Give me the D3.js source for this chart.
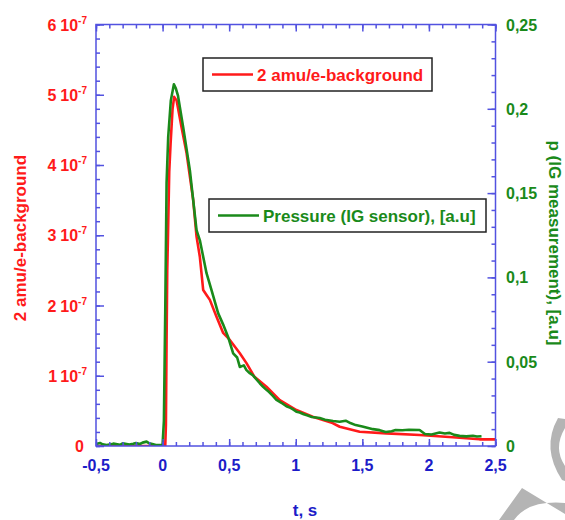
<!DOCTYPE html>
<html><head><meta charset="utf-8">
<script src="https://cdn.jsdelivr.net/npm/d3@7"></script>
<style>body{margin:0;background:#fff}svg{display:block}</style>
</head><body>
<svg id="c" width="565" height="520"></svg>
<script>
// ---------- data ----------
const xTicks = [-0.5, 0, 0.5, 1, 1.5, 2, 2.5];
const xTickLabels = ["-0,5", "0", "0,5", "1", "1,5", "2", "2,5"];
const leftTicks = [0, 1, 2, 3, 4, 5, 6];           // units of 1e-7
const leftTickMantissa = ["0", "1", "2", "3", "4", "5", "6"];
const leftTickExponent = "-7";
const rightTicks = [0, 0.05, 0.1, 0.15, 0.2, 0.25];
const rightTickLabels = ["0", "0,05", "0,1", "0,15", "0,2", "0,25"];

// 2 amu/e-background (left axis, units of 1e-7)
const redT = [-0.5, -0.3, -0.1, 0.0, 0.02, 0.025, 0.03, 0.035, 0.04, 0.05, 0.06, 0.075, 0.087, 0.105, 0.142, 0.18, 0.23, 0.255, 0.28, 0.305, 0.33, 0.355, 0.405, 0.455, 0.505, 0.58, 0.63, 0.69, 0.78, 0.88, 1.005, 1.127, 1.277, 1.33, 1.48, 1.68, 1.93, 2.18, 2.38, 2.5];
const redV = [0, 0, 0, 0, 0, 0.3, 1.5, 2.5, 2.93, 3.9, 4.3, 4.8, 4.97, 4.92, 4.54, 4.17, 3.50, 2.98, 2.69, 2.22, 2.15, 2.08, 1.84, 1.61, 1.51, 1.32, 1.18, 0.985, 0.843, 0.654, 0.512, 0.417, 0.327, 0.274, 0.203, 0.18, 0.156, 0.124, 0.095, 0.095];

// Pressure (IG sensor) (right axis, a.u.)
const greenT = [-0.5, -0.47, -0.45, -0.42, -0.4, -0.37, -0.35, -0.32, -0.3, -0.27, -0.25, -0.22, -0.2, -0.17, -0.15, -0.12, -0.1, -0.07, -0.05, -0.02, 0.0, 0.01, 0.02, 0.03, 0.042, 0.062, 0.085, 0.1, 0.115, 0.155, 0.205, 0.255, 0.28, 0.33, 0.3675, 0.417, 0.455, 0.492, 0.53, 0.56, 0.58, 0.61, 0.63, 0.655, 0.68, 0.70, 0.73, 0.755, 0.78, 0.80, 0.83, 0.855, 0.88, 0.90, 0.93, 0.96, 0.98, 1.005, 1.03, 1.06, 1.09, 1.12, 1.18, 1.22, 1.28, 1.33, 1.375, 1.41, 1.45, 1.50, 1.58, 1.63, 1.675, 1.72, 1.75, 1.80, 1.85, 1.93, 1.97, 2.02, 2.08, 2.12, 2.155, 2.19, 2.23, 2.28, 2.33, 2.36, 2.395];
const greenP = [0.0012, 0.0018, 0.0010, 0.0006, 0.0008, 0.0014, 0.0011, 0.0007, 0.0016, 0.0012, 0.0009, 0.0013, 0.0017, 0.0012, 0.0020, 0.0026, 0.0016, 0.0010, 0.0006, 0.0005, 0.0008, 0.015, 0.08, 0.156, 0.183, 0.205, 0.2145, 0.212, 0.208, 0.189, 0.1635, 0.128, 0.122, 0.1025, 0.0924, 0.0788, 0.0720, 0.0647, 0.0550, 0.0525, 0.0469, 0.0478, 0.0450, 0.0432, 0.0418, 0.0400, 0.0372, 0.0351, 0.0333, 0.0320, 0.0296, 0.0273, 0.0262, 0.0252, 0.0236, 0.0226, 0.0217, 0.0203, 0.0199, 0.0188, 0.0181, 0.0172, 0.0166, 0.0156, 0.0148, 0.0144, 0.0150, 0.0136, 0.0124, 0.0116, 0.0100, 0.0094, 0.0083, 0.0088, 0.0095, 0.0093, 0.0096, 0.0095, 0.0071, 0.0068, 0.0080, 0.0074, 0.0078, 0.0066, 0.0060, 0.0057, 0.0061, 0.0056, 0.0058];

// ---------- layout ----------
const L = 96, R = 495.5, T = 24.5, B = 446;
const svg = d3.select("#c");
const x = d3.scaleLinear().domain([-0.5, 2.5]).range([L, R]);
const yL = d3.scaleLinear().domain([0, 6]).range([B, T]);
const yR = d3.scaleLinear().domain([0, 0.25]).range([B, T]);

const FONT = "'Liberation Sans', Arial, sans-serif";
const BLUE = "#5252e0", BLUE_T = "#1c1cc8", RED = "#ff1a1a", GREEN = "#1a8a1a";

// watermark (grey shapes at bottom right)
svg.append("path").attr("fill", "#b4b4b4")
  .attr("d", "M558,418 Q541,448 562,480 L565,481 L565,466 Q553,448 565,428 L565,419 Z");
svg.append("path").attr("fill", "#b4b4b4")
  .attr("d", "M522,488 L499,520 L514,520 Q528,500 565,503 L565,514 Z");

// clip
svg.append("clipPath").attr("id", "clip").append("rect")
  .attr("x", L).attr("y", T).attr("width", R - L).attr("height", B - T);

const plot = svg.append("g").attr("clip-path", "url(#clip)");
const redData = redT.map((t, i) => [t, redV[i]]);
const greenData = greenT.map((t, i) => [t, greenP[i]]);

plot.append("path").datum(redData)
  .attr("fill", "none").attr("stroke", RED).attr("stroke-width", 2.6)
  .attr("stroke-linejoin", "round")
  .attr("d", d3.line().x(d => x(d[0])).y(d => yL(d[1])));
plot.append("path").datum(greenData)
  .attr("fill", "none").attr("stroke", GREEN).attr("stroke-width", 2.6)
  .attr("stroke-linejoin", "round")
  .attr("d", d3.line().x(d => x(d[0])).y(d => yR(d[1])));

// ---------- axes (ticks) ----------
function styleAxis(g) {
  g.select(".domain").remove();
  g.selectAll(".tick line").attr("stroke", BLUE).attr("stroke-width", 1.5);
  g.selectAll(".tick text").remove();
}
const xMinor = d3.range(-5, 26).map(d => d / 10);
const lMinor = d3.range(0, 31).map(d => d / 5);
const rMinor = d3.range(0, 26).map(d => d / 100);

svg.append("g").attr("transform", `translate(0,${B})`)
  .call(d3.axisBottom(x).tickValues(xMinor).tickSize(-4)).call(styleAxis);
svg.append("g").attr("transform", `translate(0,${B})`)
  .call(d3.axisBottom(x).tickValues(xTicks).tickSize(-7)).call(styleAxis);
svg.append("g").attr("transform", `translate(0,${T})`)
  .call(d3.axisTop(x).tickValues(xMinor).tickSize(-4)).call(styleAxis);
svg.append("g").attr("transform", `translate(0,${T})`)
  .call(d3.axisTop(x).tickValues(xTicks).tickSize(-7)).call(styleAxis);
svg.append("g").attr("transform", `translate(${L},0)`)
  .call(d3.axisLeft(yL).tickValues(lMinor).tickSize(-4)).call(styleAxis);
svg.append("g").attr("transform", `translate(${L},0)`)
  .call(d3.axisLeft(yL).tickValues(leftTicks).tickSize(-8)).call(styleAxis);
svg.append("g").attr("transform", `translate(${R},0)`)
  .call(d3.axisRight(yR).tickValues(rMinor).tickSize(-4)).call(styleAxis);
svg.append("g").attr("transform", `translate(${R},0)`)
  .call(d3.axisRight(yR).tickValues(rightTicks).tickSize(-8)).call(styleAxis);

// frame
svg.append("rect").attr("x", L).attr("y", T).attr("width", R - L).attr("height", B - T)
  .attr("fill", "none").attr("stroke", BLUE).attr("stroke-width", 1.5);

// ---------- tick labels ----------
svg.append("g").selectAll("text").data(xTicks).join("text")
  .attr("x", d => x(d)).attr("y", 471)
  .attr("text-anchor", "middle")
  .attr("font-family", FONT).attr("font-weight", "bold").attr("font-size", 16)
  .attr("fill", BLUE_T)
  .text((d, i) => xTickLabels[i]);

const lg = svg.append("g").attr("font-family", FONT).attr("font-weight", "bold").attr("fill", RED);
leftTicks.forEach((v, i) => {
  if (v === 0) {
    lg.append("text").attr("x", 84).attr("y", yL(v) + 6).attr("text-anchor", "end")
      .attr("font-size", 16).text(leftTickMantissa[i]);
  } else {
    const t = lg.append("text").attr("x", 87).attr("y", yL(v) + 6).attr("text-anchor", "end")
      .attr("font-size", 16);
    t.append("tspan").text(leftTickMantissa[i]);
    t.append("tspan").attr("dx", 4).text("10");
    t.append("tspan").attr("font-size", 10).attr("dy", -7).text(leftTickExponent);
  }
});

svg.append("g").selectAll("text").data(rightTicks).join("text")
  .attr("x", 506).attr("y", d => yR(d) + 6)
  .attr("font-family", FONT).attr("font-weight", "bold").attr("font-size", 16)
  .attr("fill", GREEN)
  .text((d, i) => rightTickLabels[i]);

// ---------- axis titles ----------
svg.append("text").attr("transform", "translate(26,238) rotate(-90)")
  .attr("text-anchor", "middle").attr("font-family", FONT).attr("font-weight", "bold")
  .attr("font-size", 17).attr("fill", RED).text("2 amu/e-background");
svg.append("text").attr("transform", "translate(549,243) rotate(90)")
  .attr("text-anchor", "middle").attr("font-family", FONT).attr("font-weight", "bold")
  .attr("font-size", 17).attr("fill", GREEN).text("p (IG measurement), [a.u]");
svg.append("text").attr("x", 305).attr("y", 516)
  .attr("text-anchor", "middle").attr("font-family", FONT).attr("font-weight", "bold")
  .attr("font-size", 17).attr("fill", BLUE_T).text("t, s");

// ---------- legends ----------
function legend(x0, y0, w, h, color, label) {
  const g = svg.append("g");
  g.append("rect").attr("x", x0).attr("y", y0).attr("width", w).attr("height", h)
    .attr("fill", "#fff").attr("stroke", "#222").attr("stroke-width", 1.5);
  g.append("line").attr("x1", x0 + 9).attr("x2", x0 + 50).attr("y1", y0 + h / 2).attr("y2", y0 + h / 2)
    .attr("stroke", color).attr("stroke-width", 2.6);
  g.append("text").attr("x", x0 + 54).attr("y", y0 + h / 2 + 6)
    .attr("font-family", FONT).attr("font-weight", "bold").attr("font-size", 17)
    .attr("fill", color).text(label);
}
legend(203, 58, 229, 33, RED, "2 amu/e-background");
legend(209, 199, 277, 33, GREEN, "Pressure (IG sensor), [a.u]");
</script>
</body></html>
